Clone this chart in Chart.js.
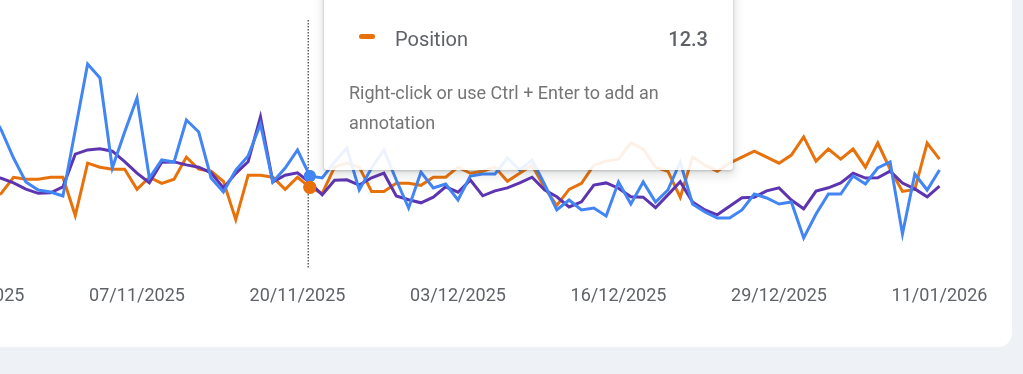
<!DOCTYPE html>
<html>
<head>
<meta charset="utf-8">
<script src="https://cdn.jsdelivr.net/npm/chart.js@4.4.1/dist/chart.umd.min.js"></script>
<style>
  html, body { margin: 0; padding: 0; }
  body {
    width: 1023px; height: 374px; overflow: hidden; position: relative;
    background: #eef2f7;
    font-family: Roboto, "Noto Sans", sans-serif;
  }
  .card {
    position: absolute; left: -20px; top: -20px; width: 1032px; height: 367px;
    background: #fff; border-radius: 0 0 14px 0;
  }
  .chart-box { position: absolute; left: -60px; top: 0; width: 1100px; height: 320px; }
  .tip {
    position: absolute; left: 324px; top: -40px; width: 409px; height: 210px;
    background: rgba(255,255,255,0.9); border-radius: 0 0 4px 4px;
    box-shadow: 0 1px 3px rgba(60,64,67,.3), 0 4px 8px 3px rgba(60,64,67,.12);
  }
  .tip-dash { position: absolute; left: 359px; top: 34px; width: 16px; height: 5px; border-radius: 3px; background: #e8710a; }
  .tip-name { position: absolute; left: 395px; top: 27px; font-size: 20px; line-height: 24px; color: #5f6368; }
  .tip-value { position: absolute; left: 600px; width: 108px; top: 27px; text-align: right; font-size: 20px; line-height: 24px; font-weight: 500; color: #5f6368; }
  .tip-note { position: absolute; left: 349px; top: 78px; width: 362px; font-size: 18px; line-height: 30px; color: #757575; }
</style>
</head>
<body>
<div class="card"></div>
<div class="chart-box"><canvas id="myChart"></canvas></div>
<div class="tip"></div>
<div class="tip-dash"></div>
<div class="tip-name">Position</div>
<div class="tip-value" id="tipValue"></div>
<div class="tip-note">Right-click or use Ctrl + Enter to add an annotation</div>

<script>
// one point per day, 25/10/2025 .. 11/01/2026
const firstDay = [2025, 9, 25], dayCount = 79;
const dates = [];
for (let i = 0; i < dayCount; i++) {
  const d = new Date(firstDay[0], firstDay[1], firstDay[2] + i);
  dates.push(String(d.getDate()).padStart(2, '0') + '/' + String(d.getMonth() + 1).padStart(2, '0') + '/' + d.getFullYear());
}
const tickLabels = ['25/10/2025', '07/11/2025', '20/11/2025', '03/12/2025', '16/12/2025', '29/12/2025', '11/01/2026'];
const hoverDate = '21/11/2025';

const clicks = [64,80,69,55,43,39,38,36,69,102, 95,50,68,85,45,54,53,74,68,45,
  38,49,56,72,43,50,59,46,45,53, 60,39,50,59,44,30,48,40,42,34,
  46,47,47,55,49,54,42,29,34,29, 30,26,43,32,43,33,39,53,32,28,
  25,25,29,37,35,32,33,15,27,37, 37,46,42,50,53,17,47,39,49];

const impressions = [883,921,897,852,788,747,752,812,1138,1181, 1192,1168,1063,948,853,1057,1061,1031,1008,952,
  801,947,1062,1512,861,928,951,853,731,878, 882,829,902,948,721,683,652,709,812,758,
  879,722,771,801,852,908,781,712,611,662, 829,851,798,712,708,603,731,862,659,581,
  532,618,702,708,772,801,679,592,769,802, 851,948,899,902,968,849,791,712,819];

const position = [12.2,12.9,12.6,11.8,11.9,11.9,11.8,11.8,13.7,11.1, 11.3,11.4,11.4,12.4,11.8,12.1,11.9,10.8,11.4,11.5,
  12.0,13.9,11.7,11.7,11.8,12.4,11.8,12.3,12.6,11.3, 11.1,11.3,12.5,12.5,12.1,12.1,12.2,11.8,11.8,11.3,
  11.6,11.5,11.3,12.0,11.6,11.2,12.3,13.2,12.4,12.1, 11.2,11.0,10.9,10.1,10.4,11.3,11.5,12.8,10.8,11.2,
  11.5,11.1,10.8,10.5,10.8,11.1,10.7,9.8,11.0,10.4, 10.9,10.4,11.3,10.1,11.4,12.5,12.4,10.1,10.9];

const hoverIndex = dates.indexOf(hoverDate);
document.getElementById('tipValue').textContent = position[hoverIndex].toFixed(1);

// dotted hover line, and the hovered points redrawn on top of the lines
const hoverLine = {
  id: 'hoverLine',
  beforeDatasetsDraw(chart) {
    const x = Math.floor(chart.scales.x.getPixelForValue(hoverIndex)) - 0.75;
    const c = chart.ctx;
    c.save();
    c.strokeStyle = '#5f6368';
    c.lineWidth = 1.5;
    c.setLineDash([1.5, 1.5]);
    c.beginPath();
    c.moveTo(x, chart.chartArea.top);
    c.lineTo(x, chart.chartArea.bottom);
    c.stroke();
    c.restore();
  },
  afterDatasetsDraw(chart) {
    [0, 2].forEach(i => chart.getDatasetMeta(i).data[hoverIndex].draw(chart.ctx, chart.chartArea));
  }
};

function line(label, data, color, axis, r) {
  return {
    label: label, data: data, yAxisID: axis,
    borderColor: color, backgroundColor: color,
    borderWidth: 3, tension: 0, fill: false,
    pointRadius: (ctx) => ctx.dataIndex === hoverIndex ? r : 0,
    pointHoverRadius: 0, pointBorderWidth: 0,
    pointBackgroundColor: color
  };
}

const ctx = document.getElementById('myChart');
new Chart(ctx, {
  type: 'line',
  data: {
    labels: dates,
    datasets: [
      line('Clicks', clicks, '#4285f4', 'yC', 6),
      line('Impressions', impressions, '#5e35b1', 'yI', 0),
      line('Position', position, '#e8710a', 'yP', 6.5)
    ]
  },
  options: {
    responsive: true,
    maintainAspectRatio: false,
    animation: false,
    events: [],
    layout: { padding: { left: 36.5, right: 100.5, top: 20, bottom: 0 } },
    plugins: { legend: { display: false }, tooltip: { enabled: false } },
    scales: {
      x: {
        grid: { display: false, drawTicks: false },
        border: { display: false },
        ticks: {
          autoSkip: false, maxRotation: 0, minRotation: 0, padding: 18,
          color: '#5f6368', font: { family: 'Roboto', size: 18 },
          callback: (v, i) => tickLabels.includes(dates[i]) ? dates[i] : ''
        },
        afterFit: (scale) => { scale.paddingLeft = 0; scale.paddingRight = 0; scale.height = 52; }
      },
      yC: { display: false, min: 0, max: 124 },
      yI: { display: false, min: 0, max: 2480 },
      yP: { display: false, reverse: true, min: 4, max: 16.3 }
    }
  },
  plugins: [hoverLine]
});
</script>
</body>
</html>
